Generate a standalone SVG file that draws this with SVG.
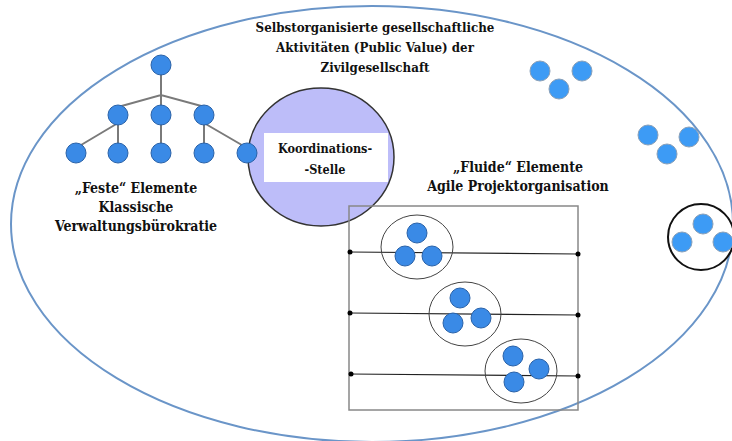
<svg xmlns="http://www.w3.org/2000/svg" width="732" height="441" viewBox="0 0 732 441">
<style>
.t{font-family:'DejaVu Serif Condensed','DejaVu Serif',serif;font-stretch:condensed;font-weight:bold;font-size:14px;fill:#111;text-anchor:middle}
.tt{font-size:13.2px}
.tn{fill:#3a8ae6;stroke:#2a62a8;stroke-width:1}
.fn{fill:#3d9bf5;stroke:#8aa0b8;stroke-width:1}
.tl{stroke:#7a7a7a;stroke-width:2;fill:none}
.hl{stroke:#222;stroke-width:1.2;fill:none}
.grp{fill:none;stroke:#444;stroke-width:1}
.dot{fill:#000}
</style>
<g id="society">
<ellipse cx="372" cy="224" rx="361" ry="218" fill="#fff" stroke="#6a95c8" stroke-width="2"/>
<text class="t tt" x="375" y="32">Selbstorganisierte gesellschaftliche</text>
<text class="t tt" x="375" y="52">Aktivitäten (Public Value) der</text>
<text class="t tt" x="375" y="72">Zivilgesellschaft</text>
</g>
<g id="connectors">
<path class="tl" d="M161,65 V95 M118,107 L161,95 L205,107 M161,95 V153 M118,115 V153 M118,123 L76,148 M204,115 V153 M204,123 L247,148"/>
</g>
<g id="koordination">
<ellipse cx="321" cy="157" rx="73" ry="69" fill="#bdbdf9" stroke="#333" stroke-width="1.5"/>
<rect x="264" y="133" width="124" height="49" fill="#fff"/>
<text class="t" x="325" y="153" style="font-size:12.5px">Koordinations-</text>
<text class="t" x="325" y="174" style="font-size:12.5px">-Stelle</text>
</g>
<g id="feste">
<circle class="tn" cx="161" cy="65" r="10"/>
<circle class="tn" cx="118" cy="115" r="10"/>
<circle class="tn" cx="161" cy="115" r="10"/>
<circle class="tn" cx="204" cy="115" r="10"/>
<circle class="tn" cx="76" cy="153" r="10"/>
<circle class="tn" cx="118" cy="153" r="10"/>
<circle class="tn" cx="161" cy="153" r="10"/>
<circle class="tn" cx="204" cy="153" r="10"/>
<circle class="tn" cx="247" cy="153" r="10"/>
<text class="t" x="136" y="193">„Feste“ Elemente</text>
<text class="t" x="136" y="212">Klassische</text>
<text class="t" x="136" y="231">Verwaltungsbürokratie</text>
</g>
<g id="fluide">
<text class="t" x="518" y="172">„Fluide“ Elemente</text>
<text class="t" x="518" y="191">Agile Projektorganisation</text>
<rect x="349" y="206" width="229" height="204" fill="none" stroke="#888" stroke-width="1.5"/>
<path class="hl" d="M349,252 L578,254 M349,313 L578,315 M349,374 L578,376"/>
<circle class="dot" cx="350" cy="252" r="2.5"/><circle class="dot" cx="578" cy="254" r="2.5"/>
<circle class="dot" cx="350" cy="313" r="2.5"/><circle class="dot" cx="578" cy="315" r="2.5"/>
<circle class="dot" cx="351" cy="374" r="2.5"/><circle class="dot" cx="578" cy="376" r="2.5"/>
</g>
<g id="team1">
<ellipse class="grp" cx="417" cy="247" rx="36" ry="32"/>
<circle class="tn" cx="417" cy="233" r="10"/>
<circle class="tn" cx="405" cy="256" r="10"/>
<circle class="tn" cx="432" cy="256" r="10"/>
</g>
<g id="team2">
<ellipse class="grp" cx="465" cy="314" rx="36" ry="32"/>
<circle class="tn" cx="460" cy="298" r="10"/>
<circle class="tn" cx="453" cy="323" r="10"/>
<circle class="tn" cx="481" cy="318" r="10"/>
</g>
<g id="team3">
<ellipse class="grp" cx="521" cy="371" rx="36" ry="32"/>
<circle class="tn" cx="513" cy="356" r="10"/>
<circle class="tn" cx="539" cy="369" r="10"/>
<circle class="tn" cx="514" cy="382" r="10"/>
</g>
<g id="free1">
<circle class="fn" cx="540" cy="71" r="10"/>
<circle class="fn" cx="582" cy="71" r="10"/>
<circle class="fn" cx="559" cy="89" r="10"/>
</g>
<g id="free2">
<circle class="fn" cx="648" cy="135" r="10"/>
<circle class="fn" cx="689" cy="137" r="10"/>
<circle class="fn" cx="667" cy="154" r="10"/>
</g>
<g id="free3">
<circle cx="701" cy="237" r="33" fill="#fff" stroke="#111" stroke-width="2"/>
<circle class="fn" cx="703" cy="224" r="10"/>
<circle class="fn" cx="682" cy="242" r="10"/>
<circle class="fn" cx="723" cy="242" r="10"/>
</g>
</svg>
